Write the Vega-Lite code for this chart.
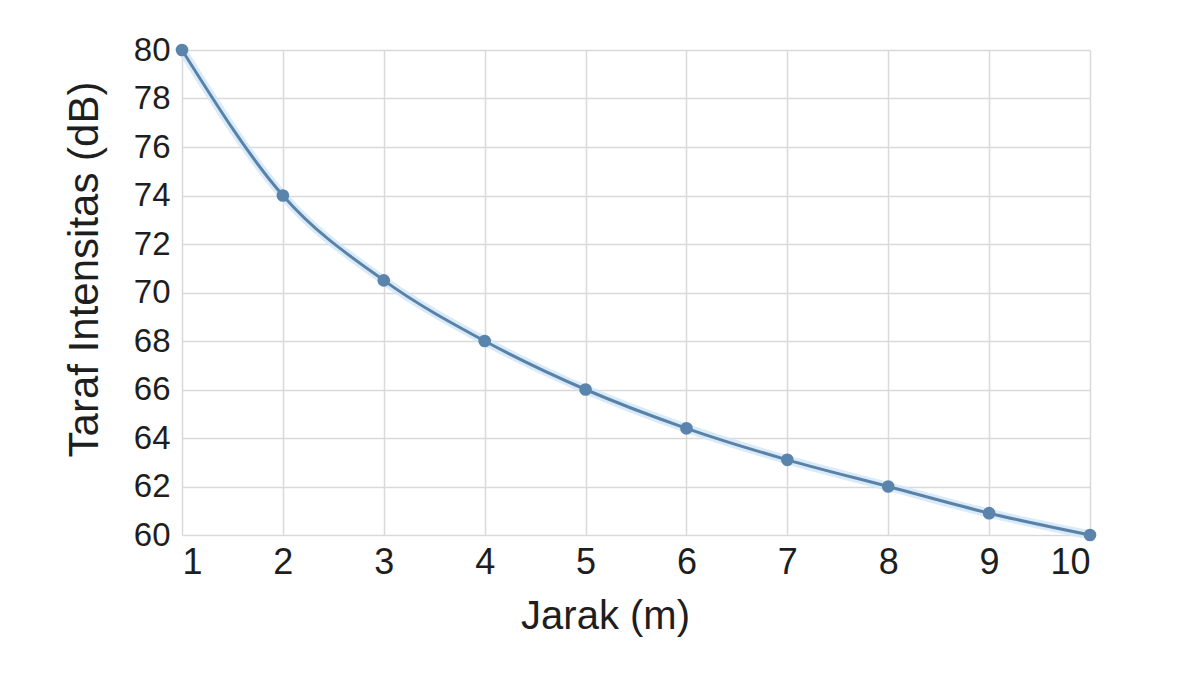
{
  "$schema": "https://vega.github.io/schema/vega-lite/v6.json",
  "autosize": "none",
  "padding": {"left": 182, "top": 50, "right": 110, "bottom": 140},
  "width": 908,
  "height": 485,
  "background": "white",
  "config": {
    "view": {"stroke": null},
    "font": "Liberation Sans",
    "axis": {
      "labelFont": "Liberation Sans",
      "titleFont": "Liberation Sans",
      "labelColor": "#1e1e1e",
      "titleColor": "#1e1e1e",
      "titleFontWeight": "normal",
      "gridColor": "#d9d9d9",
      "gridWidth": 1.5,
      "domain": false,
      "ticks": false
    }
  },
  "data": {
    "values": [
      {"jarak": 1, "taraf": 80},
      {"jarak": 2, "taraf": 74},
      {"jarak": 3, "taraf": 70.5},
      {"jarak": 4, "taraf": 68},
      {"jarak": 5, "taraf": 66},
      {"jarak": 6, "taraf": 64.4},
      {"jarak": 7, "taraf": 63.1},
      {"jarak": 8, "taraf": 62},
      {"jarak": 9, "taraf": 60.9},
      {"jarak": 10, "taraf": 60}
    ]
  },
  "encoding": {
    "x": {
      "field": "jarak",
      "type": "quantitative",
      "scale": {"domain": [1, 10], "nice": false, "zero": false},
      "axis": {"values": [1,2,3,4,5,6,7,8,9,10], "title": "Jarak (m)", "labelFontSize": 36, "titleFontSize": 40, "labelPadding": 10, "titlePadding": 16, "titleX": 423}
    },
    "y": {
      "field": "taraf",
      "type": "quantitative",
      "scale": {"domain": [60, 80], "nice": false, "zero": false},
      "axis": {"values": [60,62,64,66,68,70,72,74,76,78,80], "title": "Taraf Intensitas (dB)", "labelFontSize": 33, "titleFontSize": 42, "labelPadding": 12, "titlePadding": 27, "titleY": 219}
    }
  },
  "layer": [
    {
      "mark": {"type": "line", "interpolate": "monotone", "color": "#cfe6f7", "strokeWidth": 9, "opacity": 0.8}
    },
    {
      "mark": {"type": "line", "interpolate": "monotone", "color": "#5a82a8", "strokeWidth": 3}
    },
    {
      "mark": {"type": "point", "filled": true, "size": 160, "color": "#5b84ad", "opacity": 1}
    }
  ]
}
